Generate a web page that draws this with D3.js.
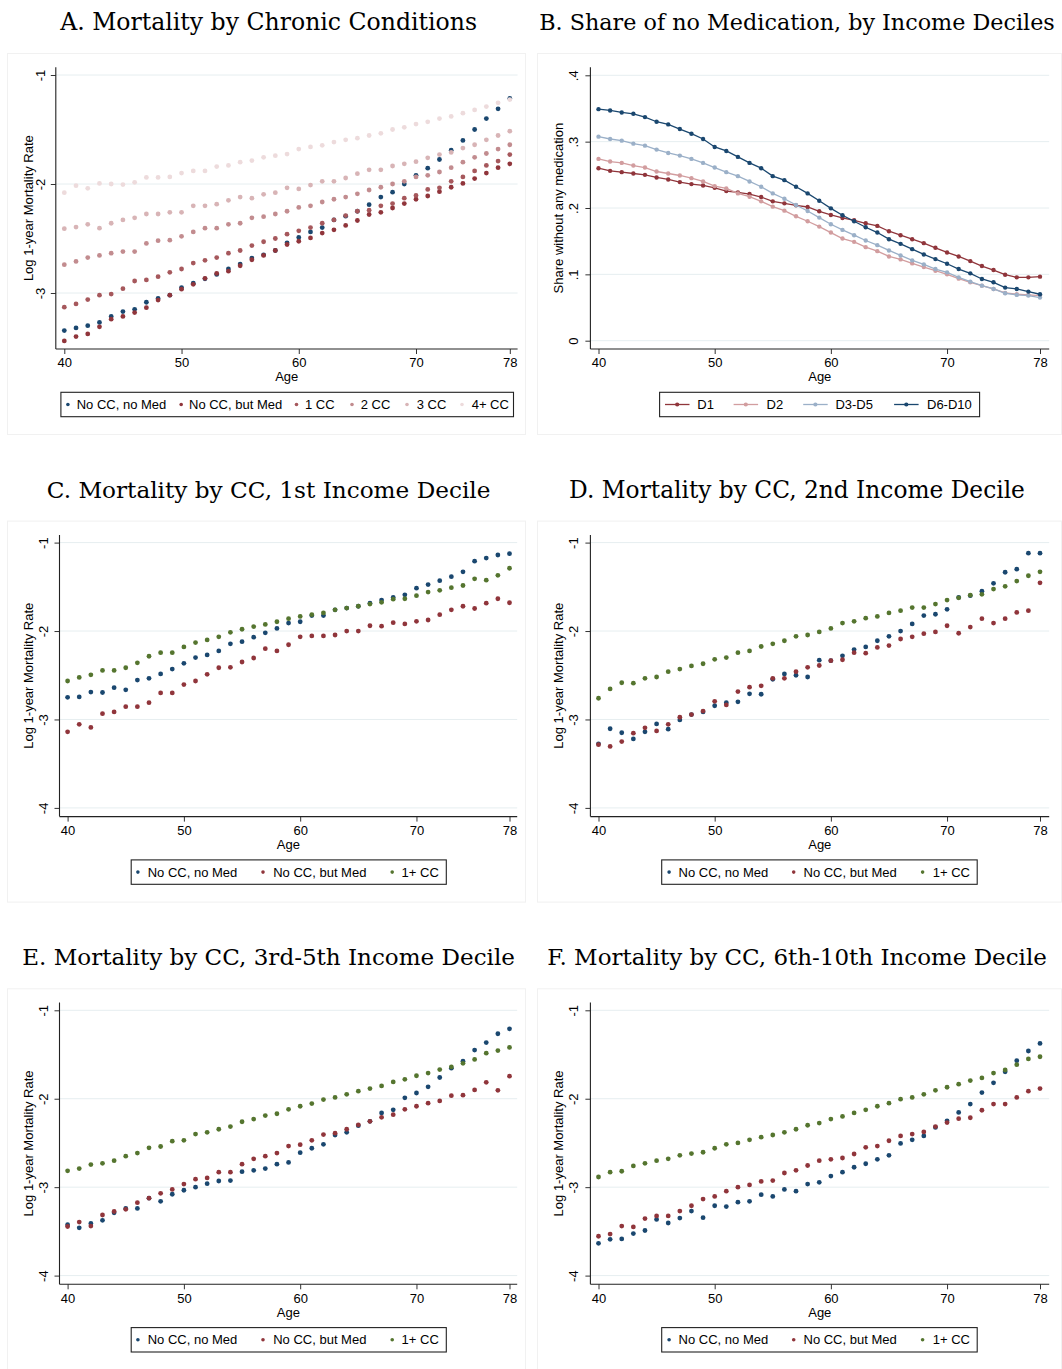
<!DOCTYPE html>
<html>
<head>
<meta charset="utf-8">
<script src="https://cdn.jsdelivr.net/npm/d3@7/dist/d3.min.js"></script>
<style>
  html, body { margin: 0; padding: 0; background: #fff; }
  svg { display: block; }
</style>
</head>
<body>
<svg id="chart" width="1062" height="1369"></svg>
<script>
// ---------------- DATA ----------------
const ages = [40,41,42,43,44,45,46,47,48,49,50,51,52,53,54,55,56,57,58,59,60,61,62,63,64,65,66,67,68,69,70,71,72,73,74,75,76,77,78];
const xTicks = [40, 50, 60, 70, 78];
const yTicksMort = [-1, -2, -3];
const yTicksMort4 = [-1, -2, -3, -4];
const yTicksShare = [0, 0.1, 0.2, 0.3, 0.4];
const yTickLabelsShare = ["0", ".1", ".2", ".3", ".4"];

// Panel A: Mortality by chronic conditions
const aNoCCNoMed = [-3.345,-3.32,-3.30,-3.27,-3.215,-3.17,-3.15,-3.085,-3.05,-3.02,-2.95,-2.91,-2.87,-2.83,-2.78,-2.735,-2.68,-2.65,-2.61,-2.54,-2.49,-2.44,-2.40,-2.33,-2.295,-2.25,-2.19,-2.12,-2.075,-2.00,-1.92,-1.855,-1.775,-1.69,-1.60,-1.50,-1.40,-1.31,-1.215];
const aNoCCMed = [-3.44,-3.40,-3.375,-3.31,-3.24,-3.215,-3.18,-3.135,-3.065,-3.02,-2.965,-2.92,-2.865,-2.82,-2.80,-2.75,-2.695,-2.655,-2.61,-2.555,-2.525,-2.495,-2.45,-2.42,-2.38,-2.335,-2.28,-2.26,-2.22,-2.18,-2.14,-2.11,-2.07,-2.03,-1.995,-1.95,-1.90,-1.85,-1.815];
const a1CC = [-3.13,-3.10,-3.06,-3.02,-3.01,-2.96,-2.89,-2.88,-2.85,-2.81,-2.78,-2.725,-2.70,-2.675,-2.635,-2.61,-2.565,-2.53,-2.50,-2.46,-2.43,-2.40,-2.36,-2.33,-2.29,-2.25,-2.24,-2.20,-2.18,-2.13,-2.105,-2.05,-2.035,-1.975,-1.935,-1.88,-1.83,-1.79,-1.73];
const a2CC = [-2.74,-2.71,-2.675,-2.655,-2.635,-2.62,-2.62,-2.545,-2.52,-2.515,-2.48,-2.44,-2.405,-2.405,-2.37,-2.36,-2.31,-2.30,-2.275,-2.25,-2.215,-2.20,-2.165,-2.14,-2.12,-2.09,-2.055,-2.03,-2.00,-1.975,-1.935,-1.92,-1.89,-1.85,-1.80,-1.755,-1.72,-1.68,-1.64];
const a3CC = [-2.41,-2.395,-2.37,-2.405,-2.36,-2.33,-2.31,-2.275,-2.275,-2.26,-2.26,-2.20,-2.20,-2.185,-2.15,-2.12,-2.13,-2.095,-2.08,-2.035,-2.045,-2.01,-1.975,-1.975,-1.945,-1.905,-1.87,-1.87,-1.835,-1.815,-1.795,-1.76,-1.73,-1.71,-1.67,-1.64,-1.595,-1.555,-1.515];
const a4CC = [-2.08,-2.015,-2.04,-1.995,-2.00,-2.005,-1.985,-1.94,-1.94,-1.935,-1.90,-1.88,-1.88,-1.84,-1.83,-1.80,-1.785,-1.755,-1.74,-1.725,-1.68,-1.66,-1.645,-1.615,-1.595,-1.58,-1.555,-1.535,-1.50,-1.48,-1.45,-1.43,-1.40,-1.38,-1.35,-1.32,-1.29,-1.255,-1.225];

// Panel B: share without medication
const bD1 = [.260,.256,.254,.252,.250,.246,.243,.239,.236,.234,.2305,.2255,.2235,.221,.2165,.210,.207,.204,.2015,.195,.1895,.185,.1815,.177,.173,.165,.159,.153,.147,.140,.133,.127,.120,.1125,.1065,.0995,.0955,.0955,.0965];
const bD2 = [.274,.270,.268,.264,.261,.255,.252,.249,.245,.240,.233,.2295,.222,.217,.210,.202,.196,.1875,.180,.172,.163,.154,.149,.141,.135,.127,.1225,.1165,.111,.1055,.100,.0935,.088,.083,.078,.072,.070,.069,.068];
const bD3D5 = [.3075,.304,.3015,.297,.294,.288,.283,.279,.274,.268,.261,.254,.248,.240,.232,.222,.214,.2045,.1955,.1855,.1755,.167,.159,.151,.144,.136,.1285,.121,.115,.108,.103,.0955,.089,.083,.078,.0715,.069,.068,.065];
const bD6D10 = [.349,.347,.344,.342,.337,.330,.326,.319,.312,.304,.292,.286,.277,.268,.260,.248,.242,.232,.222,.211,.1995,.189,.180,.171,.163,.153,.146,.138,.130,.123,.116,.108,.1015,.093,.088,.080,.078,.074,.070];

// Panel C: 1st income decile
const cNoCCNoMed = [-2.75,-2.745,-2.69,-2.695,-2.64,-2.665,-2.555,-2.535,-2.485,-2.43,-2.365,-2.30,-2.27,-2.225,-2.145,-2.12,-2.07,-2.02,-1.97,-1.91,-1.895,-1.825,-1.825,-1.76,-1.74,-1.72,-1.685,-1.65,-1.62,-1.59,-1.515,-1.475,-1.43,-1.385,-1.33,-1.21,-1.175,-1.14,-1.125];
const cNoCCMed = [-3.14,-3.055,-3.09,-2.935,-2.915,-2.855,-2.855,-2.81,-2.70,-2.70,-2.605,-2.565,-2.49,-2.415,-2.41,-2.35,-2.305,-2.20,-2.225,-2.155,-2.065,-2.055,-2.055,-2.045,-2.00,-2.00,-1.94,-1.945,-1.905,-1.92,-1.89,-1.875,-1.815,-1.76,-1.72,-1.745,-1.685,-1.635,-1.68];
const c1CC = [-2.565,-2.525,-2.495,-2.445,-2.445,-2.415,-2.36,-2.285,-2.245,-2.245,-2.18,-2.13,-2.10,-2.065,-2.015,-1.98,-1.95,-1.925,-1.895,-1.86,-1.835,-1.815,-1.795,-1.76,-1.74,-1.72,-1.695,-1.675,-1.64,-1.635,-1.60,-1.56,-1.54,-1.51,-1.485,-1.41,-1.425,-1.37,-1.29];

// Panel D: 2nd income decile
const dNoCCNoMed = [-3.275,-3.105,-3.15,-3.22,-3.14,-3.05,-3.11,-3.005,-2.945,-2.915,-2.845,-2.81,-2.80,-2.71,-2.715,-2.545,-2.485,-2.50,-2.52,-2.33,-2.335,-2.28,-2.21,-2.18,-2.11,-2.06,-2.00,-1.92,-1.825,-1.81,-1.755,-1.62,-1.60,-1.55,-1.46,-1.335,-1.30,-1.12,-1.12];
const dNoCCMed = [-3.285,-3.305,-3.25,-3.155,-3.095,-3.13,-3.055,-2.975,-2.945,-2.905,-2.795,-2.835,-2.685,-2.635,-2.62,-2.535,-2.535,-2.46,-2.41,-2.39,-2.335,-2.325,-2.245,-2.25,-2.185,-2.165,-2.09,-2.065,-2.03,-2.01,-1.94,-2.025,-1.955,-1.86,-1.91,-1.86,-1.79,-1.77,-1.455];
const d1CC = [-2.76,-2.655,-2.585,-2.59,-2.535,-2.52,-2.46,-2.43,-2.395,-2.37,-2.32,-2.30,-2.245,-2.225,-2.175,-2.145,-2.11,-2.06,-2.045,-2.01,-1.97,-1.91,-1.89,-1.855,-1.835,-1.795,-1.77,-1.735,-1.735,-1.695,-1.65,-1.625,-1.595,-1.585,-1.525,-1.495,-1.435,-1.375,-1.33];

// Panel E: 3rd-5th income decile
const eNoCCNoMed = [-3.425,-3.46,-3.41,-3.375,-3.29,-3.24,-3.24,-3.125,-3.16,-3.08,-3.035,-3.00,-2.96,-2.93,-2.925,-2.825,-2.81,-2.79,-2.74,-2.72,-2.61,-2.56,-2.515,-2.41,-2.38,-2.305,-2.255,-2.16,-2.125,-1.99,-1.935,-1.865,-1.76,-1.655,-1.575,-1.45,-1.365,-1.265,-1.21];
const eNoCCMed = [-3.445,-3.395,-3.44,-3.315,-3.275,-3.25,-3.175,-3.125,-3.07,-3.025,-2.965,-2.91,-2.895,-2.83,-2.83,-2.74,-2.68,-2.65,-2.615,-2.535,-2.52,-2.47,-2.405,-2.39,-2.345,-2.295,-2.255,-2.21,-2.18,-2.12,-2.085,-2.05,-2.025,-1.965,-1.96,-1.90,-1.815,-1.905,-1.745];
const e1CC = [-2.815,-2.79,-2.745,-2.73,-2.70,-2.65,-2.615,-2.555,-2.54,-2.48,-2.47,-2.40,-2.38,-2.345,-2.315,-2.26,-2.23,-2.19,-2.17,-2.12,-2.085,-2.055,-2.01,-1.985,-1.95,-1.915,-1.885,-1.855,-1.81,-1.78,-1.74,-1.71,-1.67,-1.64,-1.60,-1.555,-1.485,-1.455,-1.42];

// Panel F: 6th-10th income decile
const fNoCCNoMed = [-3.635,-3.59,-3.585,-3.525,-3.49,-3.365,-3.405,-3.35,-3.27,-3.345,-3.21,-3.22,-3.17,-3.16,-3.085,-3.105,-3.025,-3.045,-2.965,-2.945,-2.875,-2.83,-2.775,-2.735,-2.685,-2.64,-2.505,-2.465,-2.42,-2.325,-2.25,-2.155,-2.06,-1.93,-1.82,-1.695,-1.57,-1.46,-1.375];
const fNoCCMed = [-3.555,-3.53,-3.44,-3.45,-3.355,-3.325,-3.325,-3.27,-3.21,-3.135,-3.105,-3.045,-3.00,-2.975,-2.935,-2.925,-2.84,-2.81,-2.755,-2.70,-2.685,-2.67,-2.625,-2.55,-2.535,-2.475,-2.42,-2.40,-2.375,-2.315,-2.27,-2.225,-2.215,-2.13,-2.06,-2.06,-1.985,-1.915,-1.885];
const f1CC = [-2.885,-2.83,-2.82,-2.76,-2.73,-2.70,-2.68,-2.64,-2.62,-2.605,-2.56,-2.515,-2.50,-2.465,-2.435,-2.41,-2.38,-2.345,-2.30,-2.275,-2.23,-2.20,-2.16,-2.125,-2.085,-2.05,-2.005,-1.985,-1.95,-1.905,-1.87,-1.835,-1.795,-1.765,-1.71,-1.675,-1.615,-1.55,-1.525];

const labelsA = ["No CC, no Med", "No CC, but Med", "1 CC", "2 CC", "3 CC", "4+ CC"];
const labelsB = ["D1", "D2", "D3-D5", "D6-D10"];
const labelsCF = ["No CC, no Med", "No CC, but Med", "1+ CC"];

// ---------------- STYLE ----------------
const colBlue = "#1a476f", colRed = "#90353b", colGreen = "#55752f";
const colsA = [colBlue, colRed, "#a6585c", "#c28c8f", "#d8b4b6", "#eddbdc"];
const colsB = [colRed, "#d29d9f", "#9bb0c8", colBlue];
const colsCF = [colBlue, colRed, colGreen];
const serif = "'DejaVu Serif', serif";
const sans = "'Liberation Sans', Arial, sans-serif";
const gridCol = "#e6eef0";
const plainNum = d => String(d);

const svg = d3.select("#chart");

// column/row geometry
const colL = { x40: 64.3, x78: 509.8, axL: 55.8, axR: 517.6, ytx: 40, ytt: 28.8, cx: 268.6 };
const colL2 = { x40: 67.6, x78: 509.5, axL: 59.5, axR: 517.2, ytx: 43.3, ytt: 28.8, cx: 268.6 };
const colR = { x40: 598.5, x78: 1040, axL: 590.4, axR: 1049.2, ytx: 573.4, ytt: 558.8, cx: 797 };
const rowDY = [0, 467.6, 935.3];

const panels = [
  { title: "A. Mortality by Chronic Conditions", tw: 417, col: colL, row: 0, ydom: [-1, -3], yr: [75, 293], yTicks: yTicksMort, yLab: plainNum,
    ytitle: "Log 1-year Mortality Rate", kind: "dots", series: [aNoCCNoMed, aNoCCMed, a1CC, a2CC, a3CC, a4CC], labels: labelsA, colors: colsA,
    legend: { x0: 60.9, x1: 513.5, items: [[67.9, 76.7], [181.2, 189.0], [296.5, 305.0], [352.0, 360.7], [407.0, 416.7], [462.0, 471.7]] } },
  { title: "B. Share of no Medication, by Income Deciles", tw: 516, col: colR, row: 0, ydom: [0.4, 0], yr: [75.3, 340.7], yTicks: yTicksShare, yLab: d => yTickLabelsShare[yTicksShare.indexOf(d)],
    ytitle: "Share without any medication", kind: "lines", series: [bD1, bD2, bD3D5, bD6D10], labels: labelsB, colors: colsB,
    legend: { x0: 659.6, x1: 979.6, items: [[665.0, 697.3], [733.6, 766.5], [803.2, 835.4], [894.1, 927.0]] } },
  { title: "C. Mortality by CC, 1st Income Decile", tw: 444, col: colL2, row: 1, ydom: [-1, -4], yr: [75, 340.3], yTicks: yTicksMort4, yLab: plainNum,
    ytitle: "Log 1-year Mortality Rate", kind: "dots", series: [cNoCCNoMed, cNoCCMed, c1CC], labels: labelsCF, colors: colsCF,
    legend: { x0: 131.2, x1: 446.3, items: [[137.9, 147.7], [263.0, 273.2], [392.2, 401.6]] } },
  { title: "D. Mortality by CC, 2nd Income Decile", tw: 456, col: colR, row: 1, ydom: [-1, -4], yr: [75, 340.3], yTicks: yTicksMort4, yLab: plainNum,
    ytitle: "Log 1-year Mortality Rate", kind: "dots", series: [dNoCCNoMed, dNoCCMed, d1CC], labels: labelsCF, colors: colsCF,
    legend: { x0: 661.7, x1: 977.2, items: [[669.1, 678.6], [793.7, 803.5], [922.6, 932.8]] } },
  { title: "E. Mortality by CC, 3rd-5th Income Decile", tw: 493, col: colL2, row: 2, ydom: [-1, -4], yr: [75, 340.3], yTicks: yTicksMort4, yLab: plainNum,
    ytitle: "Log 1-year Mortality Rate", kind: "dots", series: [eNoCCNoMed, eNoCCMed, e1CC], labels: labelsCF, colors: colsCF,
    legend: { x0: 131.2, x1: 446.3, items: [[137.9, 147.7], [263.0, 273.2], [392.2, 401.6]] } },
  { title: "F. Mortality by CC, 6th-10th Income Decile", tw: 500, col: colR, row: 2, ydom: [-1, -4], yr: [75, 340.3], yTicks: yTicksMort4, yLab: plainNum,
    ytitle: "Log 1-year Mortality Rate", kind: "dots", series: [fNoCCNoMed, fNoCCMed, f1CC], labels: labelsCF, colors: colsCF,
    legend: { x0: 661.7, x1: 977.2, items: [[669.1, 678.6], [793.7, 803.5], [922.6, 932.8]] } }
];

// faint panel frames
const frameCols = [[7.5, 525.5], [537.5, 1061.5]];
rowDY.forEach(dy => frameCols.forEach(fc => {
  svg.append("rect").attr("x", fc[0]).attr("y", 53.5 + dy).attr("width", fc[1] - fc[0]).attr("height", 381)
    .attr("fill", "none").attr("stroke", "#f1f1f1").attr("stroke-width", 1);
}));

panels.forEach(p => {
  const dy = rowDY[p.row];
  const c = p.col;
  const g = svg.append("g");
  const x = d3.scaleLinear().domain([40, 78]).range([c.x40, c.x78]);
  const y = d3.scaleLinear().domain(p.ydom).range([p.yr[0] + dy, p.yr[1] + dy]);
  const axTop = 67.3 + dy, axBot = 349 + dy;

  // title, sized to the reference's width
  const tt = g.append("text").attr("x", c.cx).attr("y", 30 + dy).attr("text-anchor", "middle")
    .attr("font-family", serif).attr("font-size", 23).attr("fill", "#000").text(p.title);
  const w = tt.node().getComputedTextLength();
  if (w > 0) tt.attr("font-size", Math.min(24, 23 * p.tw / w));

  // gridlines
  g.selectAll("line.grid").data(p.yTicks).enter().append("line")
    .attr("x1", c.axL).attr("x2", c.axR).attr("y1", d => y(d)).attr("y2", d => y(d))
    .attr("stroke", gridCol).attr("stroke-width", 1);

  // y axis
  const yAxis = d3.axisLeft(y).tickValues(p.yTicks).tickSize(5).tickFormat(p.yLab);
  const ya = g.append("g").attr("transform", `translate(${c.axL},0)`).call(yAxis);
  ya.select(".domain").remove();
  ya.selectAll(".tick line").attr("stroke", "#333");
  ya.selectAll(".tick text").each(function () {
    const t = d3.select(this);
    t.attr("x", null).attr("dy", null)
      .attr("transform", `translate(${c.ytx - c.axL},0) rotate(-90)`)
      .attr("text-anchor", "middle").attr("dy", "0.35em")
      .attr("font-family", sans).attr("font-size", 13).attr("fill", "#000");
  });
  g.append("line").attr("x1", c.axL).attr("x2", c.axL).attr("y1", axTop).attr("y2", axBot)
    .attr("stroke", "#222").attr("stroke-width", 1.1);

  // x axis
  const xAxis = d3.axisBottom(x).tickValues(xTicks).tickSize(5).tickFormat(plainNum);
  const xa = g.append("g").attr("transform", `translate(0,${axBot})`).call(xAxis);
  xa.select(".domain").remove();
  xa.selectAll(".tick line").attr("stroke", "#333");
  xa.selectAll(".tick text").attr("y", 13.7).attr("dy", "0.35em")
    .attr("font-family", sans).attr("font-size", 13).attr("fill", "#000");
  g.append("line").attr("x1", c.axL).attr("x2", c.axR).attr("y1", axBot).attr("y2", axBot)
    .attr("stroke", "#222").attr("stroke-width", 1.1);

  // axis titles
  g.append("text").attr("x", (c.axL + c.axR) / 2).attr("y", 376.7 + dy).attr("dy", "0.35em")
    .attr("text-anchor", "middle").attr("font-family", sans).attr("font-size", 13).attr("fill", "#000").text("Age");
  g.append("text").attr("transform", `translate(${c.ytt},${(axTop + axBot) / 2}) rotate(-90)`)
    .attr("dy", "0.35em").attr("text-anchor", "middle").attr("font-family", sans).attr("font-size", 13)
    .attr("fill", "#000").text(p.ytitle);

  // marks
  p.series.forEach((s, si) => {
    const pts = ages.map((a, i) => [a, s[i]]);
    if (p.kind === "lines") {
      g.append("path").datum(pts)
        .attr("d", d3.line().x(d => x(d[0])).y(d => y(d[1])))
        .attr("fill", "none").attr("stroke", p.colors[si]).attr("stroke-width", 1.3);
    }
    g.append("g").selectAll("circle").data(pts).enter().append("circle")
      .attr("cx", d => x(d[0])).attr("cy", d => y(d[1]))
      .attr("r", p.kind === "lines" ? 2.2 : 2.4).attr("fill", p.colors[si]);
  });

  // legend
  const L = p.legend;
  const ly0 = 392.3 + dy, ly1 = 416.7 + dy, lyc = (ly0 + ly1) / 2;
  g.append("rect").attr("x", L.x0).attr("y", ly0).attr("width", L.x1 - L.x0).attr("height", ly1 - ly0)
    .attr("fill", "#fff").attr("stroke", "#222").attr("stroke-width", 1.1);
  p.labels.forEach((lab, i) => {
    const it = L.items[i];
    if (p.kind === "lines") {
      g.append("line").attr("x1", it[0]).attr("x2", it[0] + 24.5).attr("y1", lyc).attr("y2", lyc)
        .attr("stroke", p.colors[i]).attr("stroke-width", 1.3);
      g.append("circle").attr("cx", it[0] + 12.2).attr("cy", lyc).attr("r", 2.1).attr("fill", p.colors[i]);
    } else {
      g.append("circle").attr("cx", it[0]).attr("cy", lyc).attr("r", 1.8).attr("fill", p.colors[i]);
    }
    g.append("text").attr("x", it[1]).attr("y", lyc).attr("dy", "0.35em")
      .attr("font-family", sans).attr("font-size", 13).attr("fill", "#000").text(lab);
  });
});
</script>
</body>
</html>
